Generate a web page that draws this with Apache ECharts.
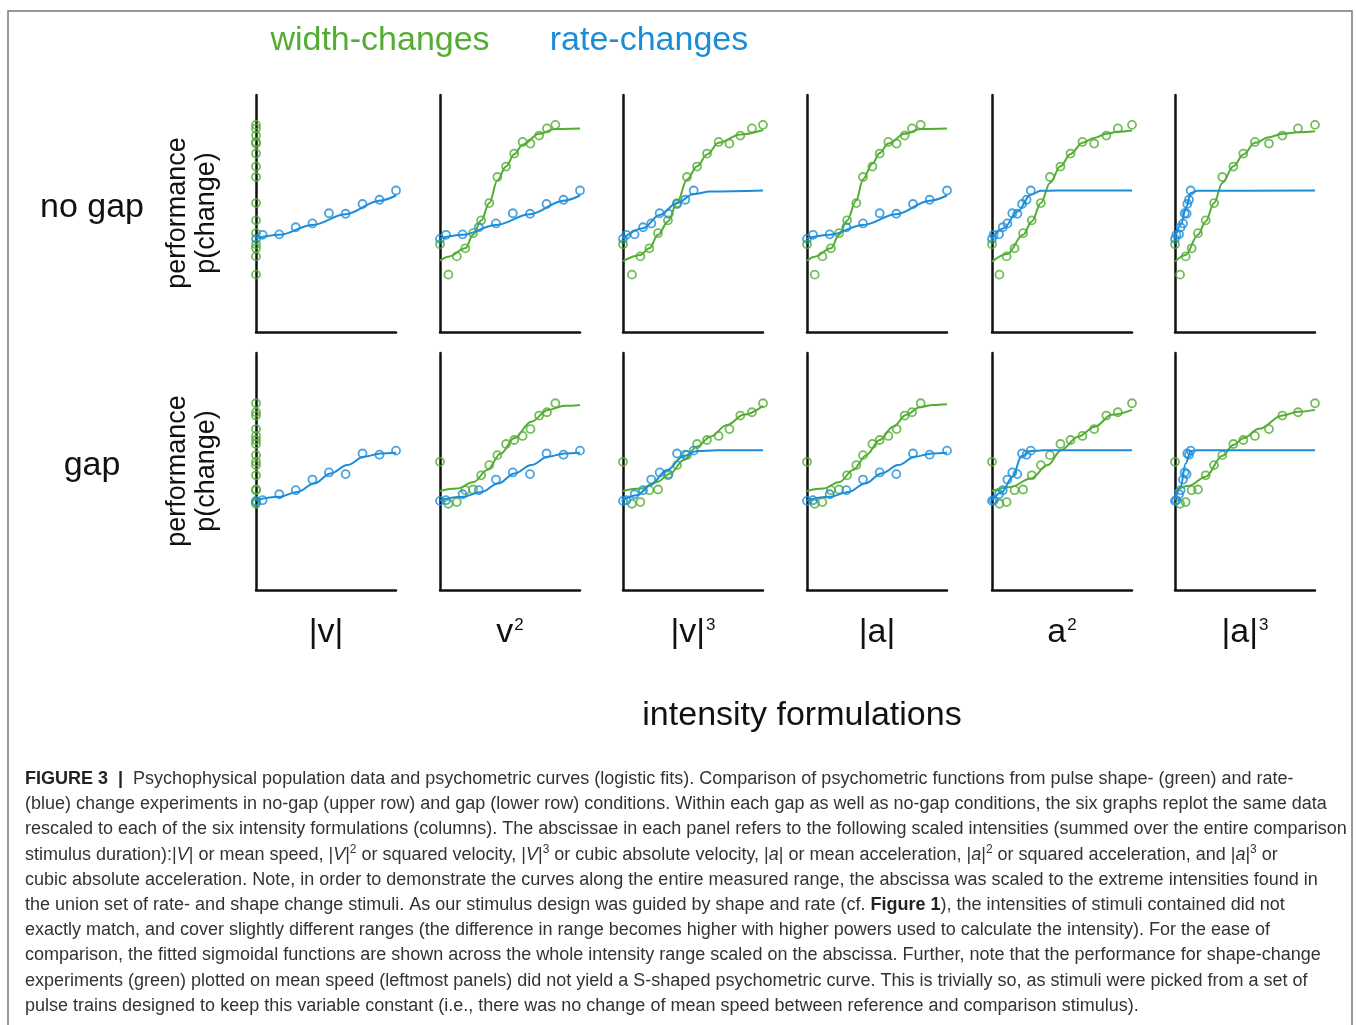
<!DOCTYPE html>
<html><head><meta charset="utf-8">
<script src="https://cdn.jsdelivr.net/npm/echarts@6/dist/echarts.min.js"></script>
<style>html,body{margin:0;padding:0;background:#fff}#chart{width:1356px;height:1025px}</style>
</head><body><div id="chart"></div>
<script>
// ---------- text ----------
const legendLabels = ['width-changes', 'rate-changes'];
const rowLabels = ['no gap', 'gap'];
const yAxisLabelLines = ['performance', 'p(change)'];
const columnBase = ['|v|', 'v', '|v|', '|a|', 'a', '|a|'];
const columnPower = ['', '2', '3', '', '2', '3'];
const xAxisTitle = 'intensity formulations';
const captionLines = [
  '{b|FIGURE 3  |}  Psychophysical population data and psychometric curves (logistic fits). Comparison of psychometric functions from pulse shape- (green) and rate-',
  '(blue) change experiments in no-gap (upper row) and gap (lower row) conditions. Within each gap as well as no-gap conditions, the six graphs replot the same data',
  'rescaled to each of the six intensity formulations (columns). The abscissae in each panel refers to the following scaled intensities (summed over the entire comparison',
  'stimulus duration):|{i|V}| or mean speed, |{i|V}|{s|2} or squared velocity, |{i|V}|{s|3} or cubic absolute velocity, |{i|a}| or mean acceleration, |{i|a}|{s|2} or squared acceleration, and |{i|a}|{s|3} or',
  'cubic absolute acceleration. Note, in order to demonstrate the curves along the entire measured range, the abscissa was scaled to the extreme intensities found in',
  'the union set of rate- and shape change stimuli. As our stimulus design was guided by shape and rate (cf. {b|Figure 1}), the intensities of stimuli contained did not',
  'exactly match, and cover slightly different ranges (the difference in range becomes higher with higher powers used to calculate the intensity). For the ease of',
  'comparison, the fitted sigmoidal functions are shown across the whole intensity range scaled on the abscissa. Further, note that the performance for shape-change',
  'experiments (green) plotted on mean speed (leftmost panels) did not yield a S-shaped psychometric curve. This is trivially so, as stimuli were picked from a set of',
  'pulse trains designed to keep this variable constant (i.e., there was no change of mean speed between reference and comparison stimulus).'
];

// ---------- performance values (same data replotted in every column of a row) ----------
const noGapWidthP = [0.370, 0.242, 0.319, 0.353, 0.417, 0.471, 0.544, 0.654, 0.698, 0.753, 0.802, 0.795, 0.829, 0.859, 0.874];
const gapWidthP   = [0.541, 0.364, 0.371, 0.421, 0.424, 0.484, 0.527, 0.569, 0.616, 0.633, 0.650, 0.679, 0.736, 0.750, 0.788];
const noGapRateP  = [0.393, 0.410, 0.412, 0.442, 0.458, 0.501, 0.499, 0.540, 0.558, 0.597];
const gapRateP    = [0.376, 0.379, 0.404, 0.421, 0.466, 0.496, 0.489, 0.576, 0.571, 0.588];

// ---------- scaled intensities of width-change stimuli, per formulation ----------
const widthX_absV  = [0, 0, 0, 0, 0, 0, 0, 0, 0, 0, 0, 0, 0, 0, 0];
const widthX_v2    = [0, 0.060, 0.120, 0.181, 0.236, 0.294, 0.352, 0.410, 0.472, 0.530, 0.590, 0.646, 0.708, 0.764, 0.824];
const widthX_absV3 = [0, 0.064, 0.124, 0.188, 0.250, 0.321, 0.386, 0.457, 0.529, 0.600, 0.683, 0.760, 0.838, 0.921, 1.000];
const widthX_absA  = [0, 0.055, 0.110, 0.171, 0.229, 0.286, 0.352, 0.400, 0.467, 0.519, 0.581, 0.640, 0.698, 0.750, 0.812];
const widthX_a2    = [0, 0.053, 0.104, 0.161, 0.222, 0.284, 0.349, 0.414, 0.489, 0.561, 0.646, 0.730, 0.817, 0.899, 1.000];
const widthX_absA3 = [0, 0.036, 0.076, 0.119, 0.164, 0.219, 0.279, 0.338, 0.417, 0.488, 0.571, 0.671, 0.767, 0.879, 1.000];

// ---------- scaled intensities of rate-change stimuli, per formulation ----------
const rateX_absV  = [0, 0.047, 0.166, 0.284, 0.403, 0.521, 0.640, 0.761, 0.882, 1.000];
const rateX_v2    = [0, 0.043, 0.161, 0.277, 0.400, 0.520, 0.643, 0.761, 0.882, 1.000];
const rateX_absV3 = [0, 0.024, 0.083, 0.143, 0.202, 0.262, 0.326, 0.386, 0.445, 0.505];
const rateX_absA  = [0, 0.043, 0.162, 0.281, 0.400, 0.519, 0.638, 0.757, 0.876, 1.000];
const rateX_a2    = [0, 0.012, 0.050, 0.077, 0.110, 0.145, 0.181, 0.215, 0.247, 0.277];
const rateX_absA3 = [0, 0.010, 0.029, 0.040, 0.057, 0.069, 0.083, 0.088, 0.100, 0.112];

// ---------- fitted logistic curves : no gap ----------
const noGapWidthFit_v2    = [[0,0.301],[0.060,0.318],[0.181,0.353],[0.236,0.410],[0.294,0.470],[0.352,0.544],[0.410,0.640],[0.472,0.698],[0.530,0.750],[0.590,0.790],[0.708,0.836],[0.824,0.857],[1,0.859]];
const noGapWidthFit_absV3 = [[0,0.299],[0.124,0.325],[0.188,0.353],[0.250,0.410],[0.321,0.466],[0.386,0.544],[0.457,0.643],[0.529,0.699],[0.600,0.749],[0.683,0.798],[0.838,0.833],[1,0.852]];
const noGapWidthFit_absA  = [[0,0.301],[0.055,0.318],[0.171,0.353],[0.229,0.410],[0.286,0.470],[0.352,0.555],[0.400,0.645],[0.467,0.710],[0.519,0.755],[0.581,0.795],[0.698,0.836],[0.812,0.857],[1,0.859]];
const noGapWidthFit_a2    = [[0,0.297],[0.108,0.329],[0.222,0.410],[0.284,0.466],[0.349,0.544],[0.414,0.629],[0.489,0.699],[0.561,0.751],[0.646,0.798],[0.730,0.819],[0.817,0.836],[0.899,0.845],[1,0.850]];
const noGapWidthFit_absA3 = [[0,0.297],[0.076,0.325],[0.164,0.410],[0.219,0.466],[0.279,0.544],[0.338,0.629],[0.417,0.699],[0.488,0.749],[0.571,0.798],[0.671,0.822],[0.767,0.836],[0.879,0.843],[1,0.847]];
const noGapRateFit_absV   = [[0,0.395],[0.166,0.410],[0.403,0.452],[0.640,0.497],[0.882,0.554],[1,0.576]];
const noGapRateFit_v2     = [[0,0.395],[0.161,0.410],[0.400,0.452],[0.643,0.497],[0.882,0.554],[1,0.576]];
const noGapRateFit_absV3  = [[0,0.395],[0.143,0.438],[0.262,0.494],[0.386,0.544],[0.505,0.582],[0.624,0.593],[1,0.597]];
const noGapRateFit_absA   = [[0,0.395],[0.162,0.410],[0.400,0.452],[0.638,0.497],[0.876,0.554],[1,0.576]];
const noGapRateFit_a2     = [[0,0.395],[0.084,0.438],[0.181,0.508],[0.277,0.579],[0.349,0.596],[0.470,0.597],[1,0.597]];
const noGapRateFit_absA3  = [[0,0.395],[0.040,0.452],[0.083,0.530],[0.112,0.586],[0.160,0.596],[1,0.597]];

// ---------- fitted logistic curves : gap ----------
const gapWidthFit_v2    = [[0,0.418],[0.120,0.428],[0.241,0.456],[0.337,0.506],[0.434,0.576],[0.530,0.640],[0.651,0.710],[0.771,0.760],[0.892,0.777],[1,0.781]];
const gapWidthFit_absV3 = [[0,0.418],[0.124,0.428],[0.243,0.456],[0.338,0.492],[0.433,0.548],[0.529,0.605],[0.624,0.647],[0.743,0.696],[0.862,0.739],[1,0.777]];
const gapWidthFit_absA  = [[0,0.418],[0.114,0.428],[0.233,0.456],[0.329,0.506],[0.424,0.569],[0.519,0.633],[0.614,0.689],[0.710,0.739],[0.805,0.771],[0.900,0.781],[1,0.784]];
const gapWidthFit_a2    = [[0,0.418],[0.133,0.435],[0.277,0.470],[0.398,0.527],[0.494,0.590],[0.614,0.647],[0.735,0.689],[0.855,0.739],[1,0.760]];
const gapWidthFit_absA3 = [[0,0.418],[0.100,0.440],[0.219,0.478],[0.338,0.566],[0.417,0.612],[0.488,0.640],[0.600,0.680],[0.767,0.736],[0.879,0.752],[1,0.760]];
const gapRateFit_absV   = [[0,0.379],[0.166,0.393],[0.296,0.414],[0.415,0.449],[0.533,0.492],[0.652,0.527],[0.770,0.562],[0.889,0.576],[1,0.579]];
const gapRateFit_v2     = [[0,0.379],[0.161,0.393],[0.296,0.414],[0.415,0.449],[0.533,0.492],[0.652,0.527],[0.770,0.562],[0.889,0.576],[1,0.579]];
const gapRateFit_absV3  = [[0,0.379],[0.100,0.400],[0.195,0.442],[0.314,0.506],[0.433,0.565],[0.529,0.586],[0.671,0.590],[1,0.590]];
const gapRateFit_absA   = [[0,0.379],[0.162,0.393],[0.296,0.414],[0.415,0.449],[0.533,0.492],[0.652,0.527],[0.770,0.562],[0.889,0.576],[1,0.579]];
const gapRateFit_a2     = [[0,0.379],[0.072,0.414],[0.145,0.477],[0.212,0.565],[0.277,0.586],[0.373,0.590],[1,0.590]];
const gapRateFit_absA3  = [[0,0.379],[0.040,0.435],[0.076,0.534],[0.112,0.586],[0.160,0.590],[1,0.590]];

// ---------- assembly ----------
const GREEN = '#52ad32', BLUE = '#1b8dd8', INK = '#111';
const FONT = '"Liberation Sans", Arial, Helvetica, sans-serif';
const widthXs = [widthX_absV, widthX_v2, widthX_absV3, widthX_absA, widthX_a2, widthX_absA3];
const rateXs = [rateX_absV, rateX_v2, rateX_absV3, rateX_absA, rateX_a2, rateX_absA3];
const rows = [
  { wP: noGapWidthP, rP: noGapRateP,
    wFit: [null, noGapWidthFit_v2, noGapWidthFit_absV3, noGapWidthFit_absA, noGapWidthFit_a2, noGapWidthFit_absA3],
    rFit: [noGapRateFit_absV, noGapRateFit_v2, noGapRateFit_absV3, noGapRateFit_absA, noGapRateFit_a2, noGapRateFit_absA3] },
  { wP: gapWidthP, rP: gapRateP,
    wFit: [null, gapWidthFit_v2, gapWidthFit_absV3, gapWidthFit_absA, gapWidthFit_a2, gapWidthFit_absA3],
    rFit: [gapRateFit_absV, gapRateFit_v2, gapRateFit_absV3, gapRateFit_absA, gapRateFit_a2, gapRateFit_absA3] }
];
const colLeft = [256, 440, 623, 807, 992, 1175];
const rowTop = [95, 353];
const PW = 140, PH = 237;

const grid = [], xAxis = [], yAxis = [], series = [];
const axisLine = { show: true, onZero: false, lineStyle: { color: INK, width: 2.5 } };
function zip(xs, ys) { return xs.map((x, i) => [x, ys[i]]); }
function scatter(g, data, color) {
  return { type: 'scatter', xAxisIndex: g, yAxisIndex: g, data, symbol: 'circle', symbolSize: 8,
    itemStyle: { color: 'rgba(0,0,0,0)', borderColor: color, borderWidth: 1.8 }, clip: false, silent: true };
}
function curve(g, data, color) {
  return { type: 'line', xAxisIndex: g, yAxisIndex: g, data, showSymbol: false, symbol: 'none',
    smooth: 0.35, smoothMonotone: 'x', lineStyle: { color, width: 2 }, clip: false, silent: true };
}
rows.forEach((row, r) => {
  colLeft.forEach((left, c) => {
    const g = grid.length;
    grid.push({ left, top: rowTop[r], width: PW, height: PH });
    xAxis.push({ gridIndex: g, type: 'value', min: 0, max: 1, axisLine, axisTick: { show: false }, axisLabel: { show: false }, splitLine: { show: false } });
    yAxis.push({ gridIndex: g, type: 'value', min: 0, max: 1, axisLine, axisTick: { show: false }, axisLabel: { show: false }, splitLine: { show: false } });
    series.push(scatter(g, zip(widthXs[c], row.wP), GREEN));
    if (row.wFit[c]) series.push(curve(g, row.wFit[c], GREEN));
    series.push(scatter(g, zip(rateXs[c], row.rP), BLUE));
    series.push(curve(g, row.rFit[c], BLUE));
  });
});

function txt(x, y, text, size, color, extra) {
  return Object.assign({ type: 'text', x, y, silent: true,
    style: { text, fontSize: size, fontFamily: FONT, fill: color,
      align: 'center', verticalAlign: 'middle', textAlign: 'center', textVerticalAlign: 'middle' } }, extra || {});
}
const graphic = [];
graphic.push({ type: 'rect', shape: { x: 8, y: 11, width: 1344, height: 1040 }, style: { fill: 'none', stroke: '#777', lineWidth: 1.5 }, silent: true });
graphic.push(txt(380, 41, legendLabels[0], 34, GREEN));
graphic.push(txt(649, 41, legendLabels[1], 34, BLUE));
const rowCenter = [213, 471];
rowLabels.forEach((lab, r) => {
  graphic.push(txt(92, rowCenter[r] - 5, lab, 34, INK));
  graphic.push(txt(178, rowCenter[r], yAxisLabelLines[0], 27, INK, { rotation: Math.PI / 2 }));
  graphic.push(txt(207, rowCenter[r], yAxisLabelLines[1], 27, INK, { rotation: Math.PI / 2 }));
});
colLeft.forEach((left, c) => {
  const t = columnPower[c] ? '{m|' + columnBase[c] + '}{s|' + columnPower[c] + '}' : '{m|' + columnBase[c] + '}';
  const el = txt(left + PW / 2, 633, t, 34, INK);
  el.style.rich = {
    m: { fontSize: 34, fontFamily: FONT, fill: INK, lineHeight: 38 },
    s: { fontSize: 17, fontFamily: FONT, fill: INK, verticalAlign: 'top', lineHeight: 38, padding: [3, 0, 0, 1] }
  };
  graphic.push(el);
});
graphic.push(txt(802, 716, xAxisTitle, 34, INK));
const CAP = 18;
const capRich = {
  b: { fontSize: CAP, fontFamily: FONT, fontWeight: 'bold', fill: '#222' },
  i: { fontSize: CAP, fontFamily: FONT, fontStyle: 'italic', fill: '#333' },
  s: { fontSize: 12, fontFamily: FONT, fill: '#333', verticalAlign: 'top', lineHeight: 22 }
};
captionLines.forEach((line, k) => {
  graphic.push({ type: 'text', x: 25, y: 779 + k * 25.2, silent: true,
    style: { text: line, fontSize: CAP, fontFamily: FONT, fill: '#333', lineHeight: 22,
      align: 'left', verticalAlign: 'middle', textAlign: 'left', textVerticalAlign: 'middle', rich: capRich } });
});

const chart = echarts.init(document.getElementById('chart'), null, { renderer: 'canvas' });
chart.setOption({ animation: false, backgroundColor: '#fff', grid, xAxis, yAxis, series, graphic });
</script></body></html>
